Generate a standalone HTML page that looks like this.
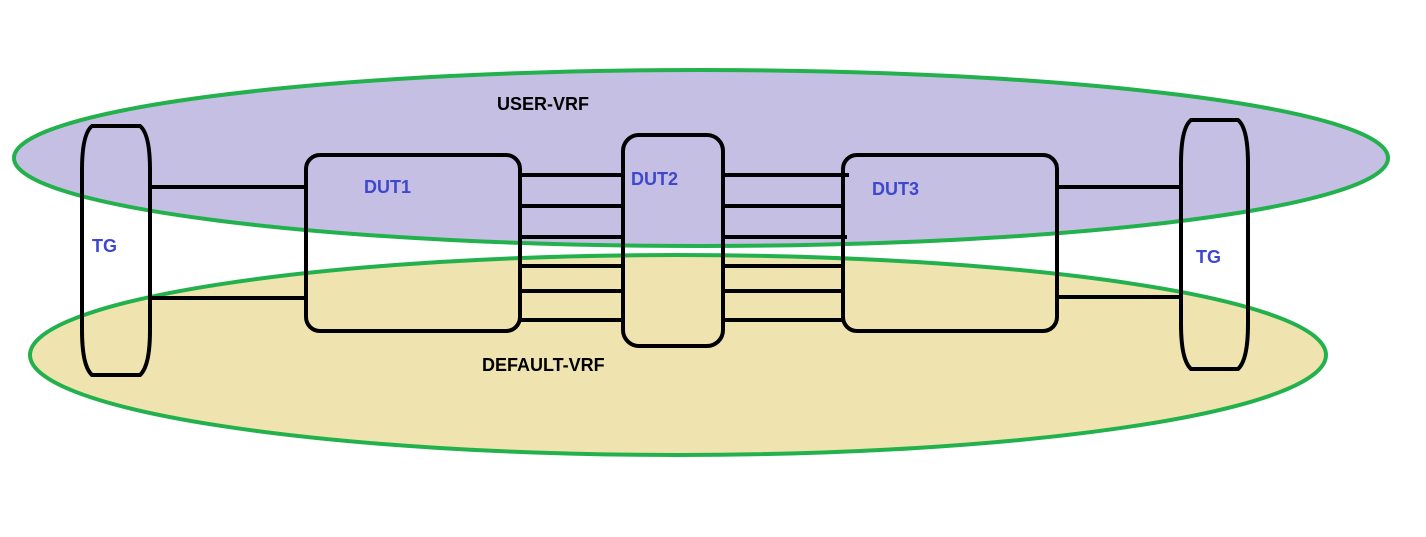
<!DOCTYPE html>
<html><head><style>html,body{margin:0;padding:0;background:#fff;}svg{display:block}</style></head>
<body>
<svg width="1426" height="537" xmlns="http://www.w3.org/2000/svg">
<ellipse cx="701" cy="158" rx="687" ry="88" fill="#c6bfe4" stroke="#22b14c" stroke-width="4"/>
<ellipse cx="678" cy="355" rx="648" ry="100" fill="#efe3b0" stroke="#22b14c" stroke-width="4"/>
<g stroke="#000" stroke-width="4" fill="none">
<path d="M92 126 L140 126 Q150 134 150 170 L150 330 Q150 366 140 375 L92 375 Q82 366 82 330 L82 170 Q82 134 92 126 Z"/>
<path d="M1191 120 L1238 120 Q1248 128 1248 164 L1248 324 Q1248 360 1238 369 L1191 369 Q1181 360 1181 324 L1181 164 Q1181 128 1191 120 Z"/>
<rect x="306" y="155" width="214" height="176" rx="14"/>
<rect x="623" y="135" width="100" height="211" rx="16"/>
<rect x="843" y="155" width="214" height="176" rx="14"/>
<line x1="150" y1="187" x2="306" y2="187"/>
<line x1="150" y1="298" x2="306" y2="298"/>
<line x1="1057" y1="187" x2="1181" y2="187"/>
<line x1="1057" y1="297" x2="1181" y2="297"/>
<line x1="520" y1="175" x2="625" y2="175"/>
<line x1="520" y1="206" x2="625" y2="206"/>
<line x1="520" y1="237" x2="625" y2="237"/>
<line x1="520" y1="266" x2="625" y2="266"/>
<line x1="520" y1="291" x2="625" y2="291"/>
<line x1="520" y1="320" x2="625" y2="320"/>
<line x1="721" y1="175" x2="849" y2="175"/>
<line x1="721" y1="206" x2="845" y2="206"/>
<line x1="721" y1="237" x2="847" y2="237"/>
<line x1="721" y1="266" x2="845" y2="266"/>
<line x1="721" y1="291" x2="845" y2="291"/>
<line x1="721" y1="320" x2="845" y2="320"/>
</g>
<g font-family="Liberation Sans, sans-serif" font-weight="bold" font-size="18">
<text x="497" y="110" fill="#000">USER-VRF</text>
<text x="482" y="371" fill="#000">DEFAULT-VRF</text>
<text x="364" y="193" fill="#3f48cc">DUT1</text>
<text x="631" y="185" fill="#3f48cc">DUT2</text>
<text x="872" y="195" fill="#3f48cc">DUT3</text>
<text x="92" y="252" fill="#3f48cc">TG</text>
<text x="1196" y="263" fill="#3f48cc">TG</text>
</g>
</svg>
</body></html>
